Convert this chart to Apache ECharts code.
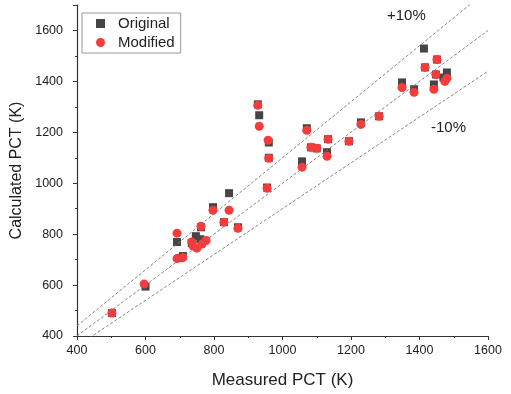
<!DOCTYPE html>
<html>
<head>
<meta charset="utf-8">
<script src="https://cdn.jsdelivr.net/npm/echarts@6/dist/echarts.min.js"></script>
<style>html,body{margin:0;padding:0;background:#fff}#c{width:511px;height:394px}</style>
</head>
<body>
<div id="c"></div>
<script>
// Measured vs calculated PCT (K)
const originalPoints = [
  [502,490],[600,594],[692,769],[700,706],[709,714],[735,765],[747,792],[760,780],
  [762,827],[797,906],[829,847],[844,961],[870,827],[928,1310],[932,1267],[955,983],
  [960,1160],[960,1100],[1057,1086],[1071,1216],[1083,1141],[1100,1137],[1130,1122],
  [1133,1173],[1194,1165],[1229,1239],[1282,1263],[1349,1396],[1384,1369],[1413,1529],
  [1442,1388],[1451,1486],[1416,1455],[1448,1427],[1470,1415],[1480,1435]
];
const modifiedPoints = [
  [502,490],[596,604],[692,804],[692,704],[709,708],[735,769],[739,753],[750,745],
  [765,761],[777,775],[762,831],[797,894],[829,847],[844,894],[870,823],[928,1306],
  [932,1224],[955,980],[958,1169],[960,1098],[1057,1063],[1071,1208],[1083,1141],
  [1100,1137],[1130,1106],[1133,1173],[1194,1165],[1229,1231],[1282,1263],[1349,1376],
  [1384,1357],[1416,1455],[1448,1427],[1451,1486],[1442,1369],[1474,1400],[1480,1412]
];
const refRange = [400, 1600];
const refFactors = [1.1, 1.0, 0.9];
const xTicks = {min: 400, max: 1600, step: 200};
const yTicks = {min: 400, max: 1700, step: 200};
const seriesNames = ['Original', 'Modified'];
const bandLabels = ['+10%', '-10%'];

const refSeries = refFactors.map(f => ({
  type: 'line',
  data: refRange.map(x => [x, x * f]),
  symbol: 'none',
  silent: true,
  clip: true,
  lineStyle: {color: '#777', width: 0.9, type: [3, 2]}
}));

const chart = echarts.init(document.getElementById('c'), null, {renderer: 'canvas'});
const font = 'Liberation Sans, Arial, sans-serif';
const plain = v => String(v);
chart.setOption({
  animation: false,
  backgroundColor: '#fff',
  textStyle: {fontFamily: font},
  grid: {left: 77, right: 23, top: 5, bottom: 58, containLabel: false},
  legend: {
    data: seriesNames,
    orient: 'vertical',
    left: 82, top: 13,
    padding: [3, 6, 3, 14],
    itemGap: 4,
    itemWidth: 9, itemHeight: 9,
    borderColor: '#999', borderWidth: 1,
    backgroundColor: '#fff',
    textStyle: {fontSize: 15, color: '#222', fontFamily: font, padding: [0, 0, 0, 8]}
  },
  xAxis: {
    type: 'value', min: xTicks.min, max: xTicks.max, interval: xTicks.step,
    name: 'Measured PCT (K)', nameLocation: 'middle', nameGap: 36,
    nameTextStyle: {fontSize: 17, color: '#222', fontFamily: font},
    axisLine: {show: true, onZero: false, lineStyle: {color: '#333', width: 1.2}},
    axisTick: {show: true, inside: false, length: 4, lineStyle: {color: '#333'}},
    minorTick: {show: true, splitNumber: 2, length: 2, lineStyle: {color: '#333'}},
    axisLabel: {fontSize: 12.5, color: '#222', margin: 8, fontFamily: font, formatter: plain},
    splitLine: {show: false}
  },
  yAxis: {
    type: 'value', min: yTicks.min, max: yTicks.max, interval: yTicks.step,
    name: 'Calculated PCT (K)', nameLocation: 'middle', nameGap: 43,
    nameTextStyle: {fontSize: 16, color: '#222', fontFamily: font},
    axisLine: {show: true, onZero: false, lineStyle: {color: '#333', width: 1.2}},
    axisTick: {show: true, inside: false, length: 4, lineStyle: {color: '#333'}},
    minorTick: {show: true, splitNumber: 2, length: 2, lineStyle: {color: '#333'}},
    axisLabel: {fontSize: 12.5, color: '#222', margin: 14, fontFamily: font, showMaxLabel: false, formatter: plain},
    splitLine: {show: false}
  },
  graphic: [
    {type: 'text', left: 387, top: 8, style: {text: bandLabels[0], fontSize: 15, fill: '#222', fontFamily: font}},
    {type: 'text', left: 431, top: 120, style: {text: bandLabels[1], fontSize: 15, fill: '#222', fontFamily: font}}
  ],
  series: [
    ...refSeries,
    {
      name: seriesNames[0], type: 'scatter', data: originalPoints,
      symbol: 'rect', symbolSize: 8,
      itemStyle: {color: '#454545', opacity: 1}
    },
    {
      name: seriesNames[1], type: 'scatter', data: modifiedPoints,
      symbol: 'circle', symbolSize: 9,
      itemStyle: {color: '#f73b3b', opacity: 1}
    }
  ]
});
</script>
</body>
</html>
